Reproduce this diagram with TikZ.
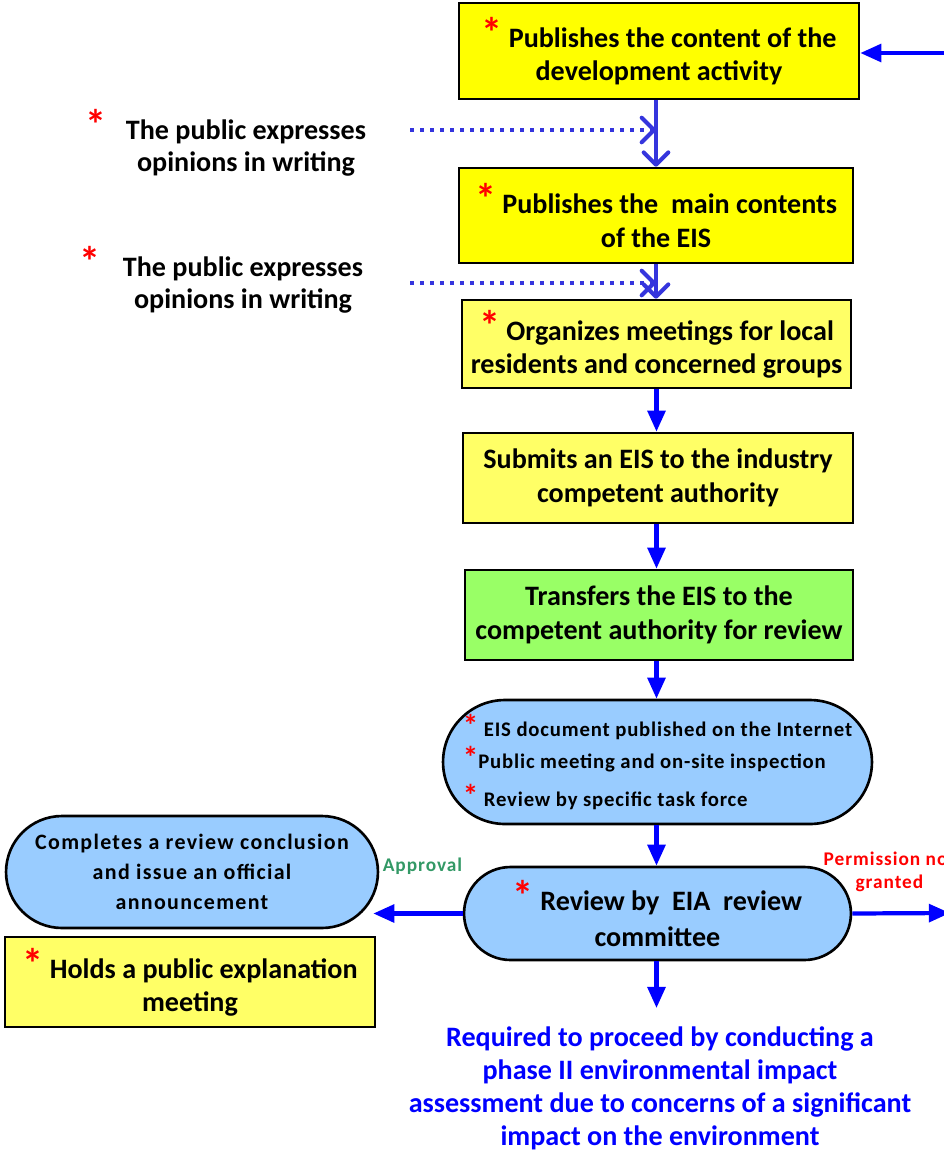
\documentclass[tikz,border=0pt]{standalone}
\usepackage{fontspec}
\setmainfont{Carlito}
\usetikzlibrary{arrows.meta}

\definecolor{boxyellow}{HTML}{FFFF00}
\definecolor{paleyellow}{HTML}{FFFF66}
\definecolor{boxgreen}{HTML}{99FF66}
\definecolor{pillblue}{HTML}{99CCFF}
\definecolor{flowblue}{HTML}{0000FF}
\definecolor{inkblue}{HTML}{3535DD}
\definecolor{okgreen}{HTML}{339966}

\newcommand{\redast}{\scalebox{1.5}{\textcolor{red}{*}}}

\begin{document}
\begin{tikzpicture}[x=0.02cm, y=-0.02cm,
    box/.style={rectangle, draw, line width=1.5pt, align=center, font=\fontsize{16}{19}\selectfont\bfseries},
    pill/.style={rectangle, rounded corners=#1, draw, line width=1.5pt, fill=pillblue, align=center, inner xsep=0pt},
    note/.style={align=center, font=\fontsize{16}{18.5}\selectfont\bfseries},
    tag/.style={align=center, font=\fontsize{11}{13}\selectfont\bfseries\addfontfeature{LetterSpace=5}},
    flow/.style={draw=flowblue, line width=2.4pt, -{Triangle[width=10pt,length=12pt]}},
    ink/.style={draw=inkblue, line width=2.3pt, -{Straight Barb[length=7pt,width=14pt,round]}},
    inkdot/.style={draw=inkblue, line width=2.3pt, dash pattern=on 2.3pt off 3.4pt, -{Straight Barb[length=7pt,width=14pt,round]}}]
    \useasboundingbox (0,0) rectangle (944,1154);

    % main column
    \node[box, fill=boxyellow, minimum width=8cm, minimum height=1.92cm] (pub1) at (659, 51) {\redast\ Publishes the content of the\\development activity};
    \node[box, fill=boxyellow, minimum width=7.88cm, minimum height=1.9cm] (pub2) at (656, 215.5) {\redast\ Publishes the\ \ main contents\\of the EIS};
    \node[box, fill=paleyellow, minimum width=7.78cm, minimum height=1.76cm] (org) at (656.5, 344) {\redast\ Organizes meetings for local\\residents and concerned groups};
    \node[box, fill=paleyellow, minimum width=7.8cm, minimum height=1.8cm] (sub) at (658, 478) {Submits an EIS to the industry\\competent authority};
    \node[box, fill=boxgreen, minimum width=7.76cm, minimum height=1.8cm] (trans) at (659, 615) {Transfers the EIS to the\\competent authority for review};
    \node[pill=1.24cm, minimum width=8.58cm, minimum height=2.48cm, align=left,
          font=\fontsize{11.8}{17.6}\selectfont\bfseries\addfontfeature{LetterSpace=4}] (online) at (657.5, 762)
          {\redast\ EIS document published on the Internet\\[1pt]\redast Public meeting and on-site inspection\\[4pt]\redast\ Review by specific task force};
    \node[pill=0.93cm, minimum width=7.74cm, minimum height=1.86cm, font=\fontsize{16}{21}\selectfont\bfseries] (review) at (657.5, 913.5) {\redast\ Review by\ \ EIA\ \ review\\committee};

    % left side
    \node[note] (op1) at (246, 143) {\llap{\redast\hspace{11pt}}The public expresses\\opinions in writing};
    \node[note] (op2) at (243, 280) {\llap{\redast\hspace{13pt}}The public expresses\\opinions in writing};
    \node[pill=1.12cm, minimum width=7.44cm, minimum height=2.24cm,
          font=\fontsize{12.5}{17}\selectfont\bfseries\addfontfeature{LetterSpace=6}] (complete) at (192, 872) {Completes a review conclusion\\and issue an official\\announcement};
    \node[box, fill=paleyellow, minimum width=7.4cm, minimum height=1.8cm] (holds) at (190, 982) {\redast\ Holds a public explanation\\meeting};

    % outcome
    \node[note, text=flowblue, inner ysep=0.36cm, font=\fontsize{16}{18.8}\selectfont\bfseries] (req) at (660, 1088)
          {Required to proceed by conducting a\\phase II environmental impact\\assessment due to concerns of a significant\\impact on the environment};

    \coordinate (back) at (950, 53);
    \coordinate (dot1) at (410, 130);
    \coordinate (dot2) at (410, 283);
    \coordinate (out) at (950, 913);

    % connectors
    \draw[flow] (back) -- (pub1.east |- back);
    \draw[ink] (pub2.north |- pub1.south) -- (pub2.north);
    \draw[inkdot] (dot1) -- (dot1 -| pub2.north);
    \draw[ink] (pub2.south) -- (pub2.south |- org.north);
    \draw[inkdot] (dot2) -- (dot2 -| pub2.south);
    \draw[flow] (org.south) -- (org.south |- sub.north);
    \draw[flow] (org.south |- sub.south) -- (org.south |- trans.north);
    \draw[flow] (org.south |- trans.south) -- (org.south |- online.north);
    \draw[flow] (org.south |- online.south) -- (org.south |- review.north);
    \draw[flow] (review.west) -- ([xshift=-0.12cm]complete.east |- review.west)
        node[tag, text=okgreen, pos=0.45, above=0.62cm] (ok) {Approval};
    \draw[flow] (review.east) -- (out)
        node[tag, text=red, pos=0.38, above=0.28cm] (deny) {Permission not\\granted};
    \draw[flow] (org.south |- review.south) -- (org.south |- req.north);
\end{tikzpicture}
\end{document}
